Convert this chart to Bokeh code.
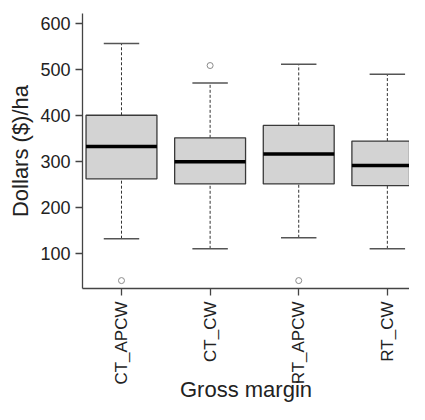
import math
from bokeh.plotting import figure
from bokeh.models import FixedTicker, Range1d, ColumnDataSource
from bokeh.embed import file_html
from bokeh.resources import INLINE

categories = ["CT_APCW", "CT_CW", "RT_APCW", "RT_CW"]
lower_whisker = [133, 111, 135, 111]
q1 = [263, 252, 252, 248]
median = [333, 300, 317, 292]
q3 = [401, 352, 379, 345]
upper_whisker = [557, 471, 512, 490]
outlier_group = ["CT_APCW", "CT_CW", "RT_APCW"]
outlier_value = [42, 509, 42]

pos = list(range(1, len(categories) + 1))
box_w = 0.8
cap_w = 0.4

src = ColumnDataSource(dict(
    x=pos, lw=lower_whisker, q1=q1, med=median, q3=q3, uw=upper_whisker,
    xl=[p - box_w / 2 for p in pos], xr=[p + box_w / 2 for p in pos],
    cl=[p - cap_w / 2 for p in pos], cr=[p + cap_w / 2 for p in pos],
))
out_src = ColumnDataSource(dict(
    x=[categories.index(g) + 1 for g in outlier_group], y=outlier_value))

FONT = "Liberation Sans"

p = figure(width=409, height=404, output_backend="svg", toolbar_location=None,
           x_range=Range1d(0.56, 4.25), y_range=Range1d(24.8, 622),
           min_border_left=82, min_border_top=13, min_border_right=0,
           min_border_bottom=0)
p.outline_line_color = None
p.xgrid.visible = False
p.ygrid.visible = False
p.background_fill_color = "white"
p.border_fill_color = "white"

# whiskers
p.segment(x0="x", y0="q3", x1="x", y1="uw", source=src, line_color="#333333",
          line_width=1, line_dash="3 2")
p.segment(x0="x", y0="lw", x1="x", y1="q1", source=src, line_color="#333333",
          line_width=1, line_dash="3 2")
# caps
p.segment(x0="cl", y0="uw", x1="cr", y1="uw", source=src, line_color="#555555",
          line_width=1.5)
p.segment(x0="cl", y0="lw", x1="cr", y1="lw", source=src, line_color="#555555",
          line_width=1.5)
# boxes
p.vbar(x="x", width=box_w, bottom="q1", top="q3", source=src,
       fill_color="#D3D3D3", line_color="#3a3a3a", line_width=1.3)
# medians
p.segment(x0="xl", y0="med", x1="xr", y1="med", source=src, line_color="black",
          line_width=3.5)
# outliers
p.scatter(x="x", y="y", source=out_src, marker="circle", size=6,
          fill_color=None, line_color="#8a8a8a", line_width=1)

for ax in (p.xaxis[0], p.yaxis[0]):
    ax.axis_line_color = "#444444"
    ax.axis_line_width = 1.3
    ax.major_tick_line_color = "#444444"
    ax.major_tick_line_width = 1.3
    ax.major_tick_out = 7
    ax.major_tick_in = 0
    ax.minor_tick_line_color = None
    ax.major_label_text_font = FONT
    ax.major_label_text_color = "#222222"
    ax.axis_label_text_font = FONT
    ax.axis_label_text_font_size = "22px"
    ax.axis_label_text_font_style = "normal"
    ax.axis_label_text_color = "#222222"

p.yaxis.major_label_text_font_size = "18px"
p.yaxis.ticker = FixedTicker(ticks=[100, 200, 300, 400, 500, 600])
p.yaxis.axis_label = "Dollars ($)/ha"
p.yaxis.major_label_standoff = 5
p.yaxis.axis_label_standoff = 4

p.xaxis.major_label_text_font_size = "17px"
p.xaxis.ticker = FixedTicker(ticks=pos)
p.xaxis.major_label_overrides = {i: c for i, c in zip(pos, categories)}
p.xaxis.major_label_orientation = math.pi / 2
p.xaxis.axis_label = "Gross margin"
p.xaxis.major_label_standoff = 6
p.xaxis.axis_label_standoff = -11

open("out.html", "w").write(file_html(p, INLINE))
